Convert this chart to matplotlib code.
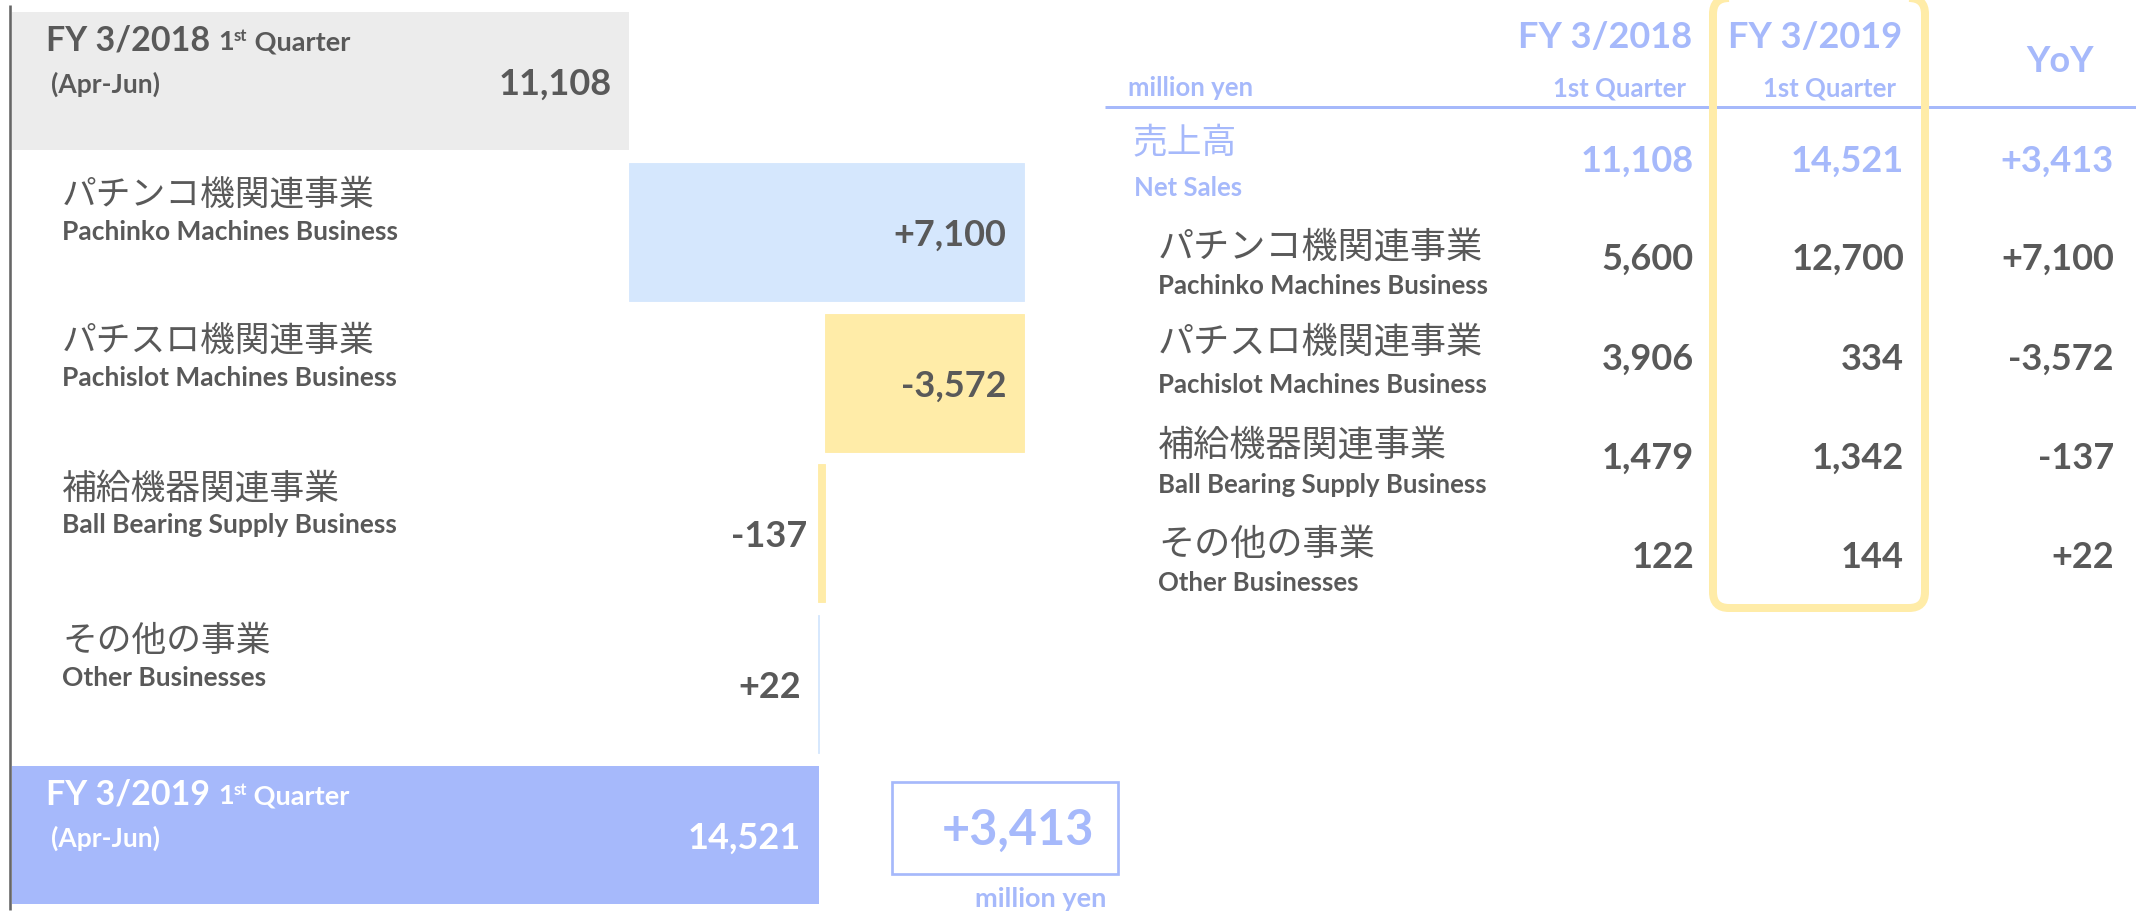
import matplotlib
matplotlib.use("Agg")
import matplotlib.pyplot as plt
from matplotlib.patches import FancyBboxPatch, Rectangle

# ---------------- data ----------------
segments_jp = ["パチンコ機関連事業", "パチスロ機関連事業", "補給機器関連事業", "その他の事業"]
segments_en = ["Pachinko Machines Business", "Pachislot Machines Business",
               "Ball Bearing Supply Business", "Other Businesses"]
fy2018_q1 = [5600, 3906, 1479, 122]
fy2019_q1 = [12700, 334, 1342, 144]
yoy = [7100, -3572, -137, 22]
net_sales_2018 = 11108
net_sales_2019 = 14521
net_sales_yoy = 3413
period_labels = ["FY 3/2018", "FY 3/2019"]

# ---------------- style ----------------
W, H, DPI = 2136, 913, 100
GRAY = "#595959"
BLUE = "#a6b9fb"
LBLUE = "#d5e7fd"
YELLOW = "#ffeca8"
GREYBOX = "#ececec"
EN = ["Lato", "DejaVu Sans"]
JP = ["Noto Sans CJK JP", "DejaVu Sans"]
PT = 72.0 / DPI  # points per pixel

fig = plt.figure(figsize=(W / DPI, H / DPI), dpi=DPI)
fig.patch.set_facecolor("white")

# ---------------- waterfall axes ----------------
k = 0.0556          # px per million yen
x0 = 11.7           # px of value 0
right_px = 1130
wf = fig.add_axes([0, 0, right_px / W, 1])
wf.set_xlim(-x0 / k, (right_px - x0) / k)
row0, pitch = 81.0, 150.8
wf.set_ylim((H - row0) / pitch, -row0 / pitch)
wf.axis("off")
bh = 138 / pitch

wf.barh(0, net_sales_2018, left=0, height=bh, color=GREYBOX, lw=0)
start = net_sales_2018
bars = [(0, 0, net_sales_2018, f"{net_sales_2018:,}", GRAY)]
for i, d in enumerate(yoy):
    c = LBLUE if d > 0 else YELLOW
    wf.barh(i + 1, d, left=start, height=bh, color=c, ec=c, lw=0.9 * PT)
    bars.append((i + 1, start, start + d, f"{d:+,}", GRAY))
    start += d
wf.barh(5, net_sales_2019, left=0, height=bh, color=BLUE, lw=0)
bars.append((5, 0, net_sales_2019, f"{net_sales_2019:,}", "white"))

for row, a, b, txt, col in bars:
    wf.annotate(txt, xy=(max(a, b), row), xytext=(-18, -14), textcoords="offset pixels",
                ha="right", va="baseline", fontsize=26, fontweight="bold",
                color=col, family=EN)

# ---------------- overlay (pixel coords) ----------------
ov = fig.add_axes([0, 0, 1, 1])
ov.set_xlim(0, W)
ov.set_ylim(H, 0)
ov.axis("off")

fig.canvas.draw()
rend = fig.canvas.get_renderer()


def chain(x, y, parts, color):
    """parts: (text, size, dy_px)"""
    for txt, size, dy in parts:
        t = ov.text(x, y + dy, txt, fontsize=size, fontweight="bold", color=color,
                    family=EN, ha="left", va="baseline")
        bb = t.get_window_extent(renderer=rend)
        x += bb.width


ov.plot([10.3, 10.3], [5, 910], color="#666666", lw=2.6 * PT, solid_capstyle="butt")

for (label, top, col) in [(period_labels[0], 12, GRAY), (period_labels[1], 766, "white")]:
    chain(46, top + 38, [(label + " ", 24.5, 0), ("1", 19.5, 0), ("st", 12, -9), (" Quarter", 19.5, 0)], col)
    ov.text(51, top + 81, "(Apr-Jun)", fontsize=19, fontweight="bold", color=col,
            family=EN, va="baseline")

jp_base_l = [205, 351, 499, 651]
en_base_l = [240, 386, 533, 686]
for i in range(4):
    ov.text(62, jp_base_l[i], segments_jp[i], fontsize=25, color=GRAY, family=JP, va="baseline")
    ov.text(62, en_base_l[i], segments_en[i], fontsize=19, fontweight="bold", color=GRAY,
            family=EN, va="baseline")

ov.add_patch(Rectangle((892, 782), 226, 92, fill=False, ec=BLUE, lw=2.7 * PT))
ov.text(1094, 845, f"{net_sales_yoy:+,}", fontsize=35, fontweight="bold", color=BLUE,
        family=EN, ha="right", va="baseline")
ov.text(1106, 907, "million yen", fontsize=19.5, fontweight="bold", color=BLUE,
        family=EN, ha="right", va="baseline")

# ---------------- right table ----------------
col_r = [1694, 1904, 2114]
ov.plot([1105, W], [107, 107], color=BLUE, lw=3 * PT, solid_capstyle="butt")
ov.add_patch(FancyBboxPatch((1713, -2), 212, 610, boxstyle="round,pad=0,rounding_size=16",
                            fc="none", ec=YELLOW, lw=8 * PT, zorder=5))
ov.text(1692, 48, period_labels[0], fontsize=26, fontweight="bold", color=BLUE, family=EN,
        ha="right", va="baseline")
ov.text(1902, 48, period_labels[1], fontsize=26, fontweight="bold", color=BLUE, family=EN,
        ha="right", va="baseline")
ov.text(2094, 72, "YoY", fontsize=26, fontweight="bold", color=BLUE, family=EN,
        ha="right", va="baseline")
ov.text(1128, 96, "million yen", fontsize=18.5, fontweight="bold", color=BLUE, family=EN,
        va="baseline")
for xr in (1686, 1896):
    ov.text(xr, 96, "1st Quarter", fontsize=18.5, fontweight="bold", color=BLUE, family=EN,
            ha="right", va="baseline")

ov.text(1132, 153, "売上高", fontsize=25, color=BLUE, family=JP, va="baseline")
ov.text(1134, 196, "Net Sales", fontsize=18.5, fontweight="bold", color=BLUE, family=EN,
        va="baseline")
for xr, txt in zip(col_r, [f"{net_sales_2018:,}", f"{net_sales_2019:,}", f"{net_sales_yoy:+,}"]):
    ov.text(xr, 172, txt, fontsize=26, fontweight="bold", color=BLUE, family=EN,
            ha="right", va="baseline")

jp_base_r = [258, 353, 456, 555]
en_base_r = [294, 393, 493, 591]
num_base_r = [270, 370, 469, 568]
for i in range(4):
    ov.text(1158, jp_base_r[i], segments_jp[i], fontsize=26, color=GRAY, family=JP, va="baseline")
    ov.text(1158, en_base_r[i], segments_en[i], fontsize=18.5, fontweight="bold", color=GRAY,
            family=EN, va="baseline")
    vals = [f"{fy2018_q1[i]:,}", f"{fy2019_q1[i]:,}", f"{yoy[i]:+,}"]
    for xr, txt in zip(col_r, vals):
        ov.text(xr, num_base_r[i], txt, fontsize=26, fontweight="bold", color=GRAY, family=EN,
                ha="right", va="baseline")

fig.savefig("out.png", dpi=DPI, facecolor="white")
